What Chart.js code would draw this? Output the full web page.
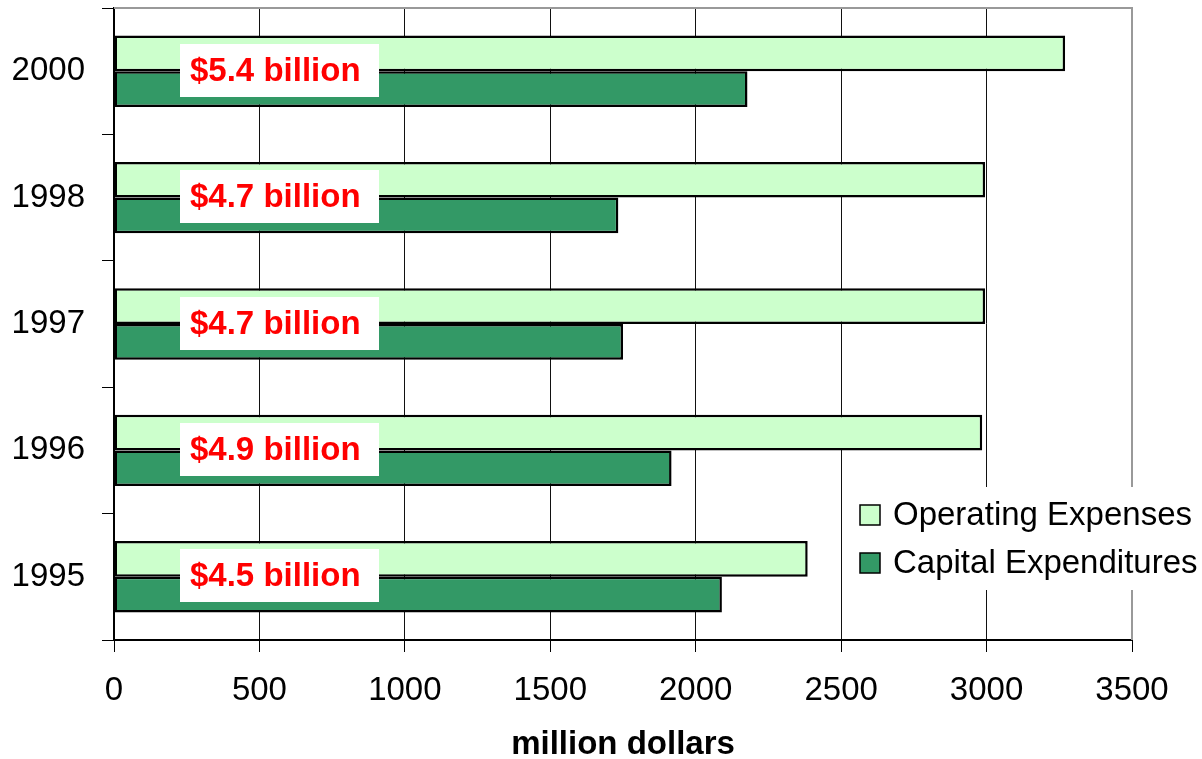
<!DOCTYPE html>
<html>
<head>
<meta charset="utf-8">
<script src="https://cdn.jsdelivr.net/npm/chart.js@4/dist/chart.umd.min.js"></script>
<style>
  html, body { margin: 0; padding: 0; background: #fff; }
  canvas { display: block; }
</style>
</head>
<body>
<canvas id="c" width="1202" height="759"></canvas>
<script>
const years = ['2000', '1998', '1997', '1996', '1995'];
const operatingExpenses = [3270, 2995, 2995, 2985, 2385];
const capitalExpenditures = [2178, 1734, 1750, 1917, 2090];
const totalLabels = ['$5.4 billion', '$4.7 billion', '$4.7 billion', '$4.9 billion', '$4.5 billion'];
const xTicks = [0, 500, 1000, 1500, 2000, 2500, 3000, 3500];
const seriesNames = ['Operating Expenses', 'Capital Expenditures'];

const FONT = '"Liberation Sans", Arial, sans-serif';

const overlayPlugin = {
  id: 'overlay',
  afterDatasetsDraw(chart) {
    const ctx = chart.ctx;
    const xs = chart.scales.x, ys = chart.scales.y;
    const area = chart.chartArea;
    ctx.save();
    // top & right frame
    ctx.strokeStyle = '#999';
    ctx.lineWidth = 2;
    ctx.beginPath();
    ctx.moveTo(area.left, area.top);
    ctx.lineTo(area.right, area.top);
    ctx.lineTo(area.right, area.bottom);
    ctx.stroke();
    // total labels
    ctx.font = 'bold 33px ' + FONT;
    ctx.textBaseline = 'middle';
    ctx.textAlign = 'left';
    const cx = xs.getPixelForValue(570);
    totalLabels.forEach((t, i) => {
      const cy = ys.getPixelForValue(i);
      const bw = 199, bh = 53;
      const bx = Math.round(cx - bw / 2), by = Math.round(cy - bh / 2 - 1);
      ctx.fillStyle = '#fff';
      ctx.fillRect(bx, by, bw, bh);
      ctx.fillStyle = '#ff0000';
      ctx.fillText(t, bx + 10, by + bh / 2 + 1);
    });
    // legend
    const lx = 848, ly = 487;
    ctx.fillStyle = '#fff';
    ctx.fillRect(lx, ly, 1202 - lx, 103);
    ctx.font = '33px ' + FONT;
    chart.data.datasets.forEach((ds, i) => {
      const rowY = 515 + i * 48;
      ctx.fillStyle = ds.backgroundColor;
      ctx.fillRect(860, rowY - 10, 20, 20);
      ctx.strokeStyle = '#000';
      ctx.lineWidth = 1.5;
      ctx.strokeRect(860, rowY - 10, 20, 20);
      ctx.fillStyle = '#000';
      ctx.fillText(ds.label, 893, rowY + 1);
    });
    ctx.restore();
  }
};

new Chart(document.getElementById('c'), {
  type: 'bar',
  data: {
    labels: years,
    datasets: [
      { label: seriesNames[0], data: operatingExpenses, backgroundColor: '#CCFFCC', borderColor: '#000', borderWidth: 2.5, borderSkipped: false, categoryPercentage: 0.565, barPercentage: 1 },
      { label: seriesNames[1], data: capitalExpenditures, backgroundColor: '#339966', borderColor: '#000', borderWidth: 2.5, borderSkipped: false, categoryPercentage: 0.565, barPercentage: 1 }
    ]
  },
  options: {
    indexAxis: 'y',
    responsive: false,
    animation: false,
    layout: { padding: { top: 8, right: 70, left: 0, bottom: 0 } },
    plugins: { legend: { display: false }, tooltip: { enabled: false } },
    scales: {
      x: {
        min: 0, max: 3500,
        afterBuildTicks(scale) { scale.ticks = xTicks.map(v => ({ value: v })); },
        afterFit(scale) { scale.height = 119; scale.paddingLeft = 0; scale.paddingRight = 0; },
        ticks: { font: { family: FONT, size: 33 }, color: '#000', padding: 19, maxRotation: 0, callback: v => String(v) },
        grid: {
          color: c => (c.tick && c.tick.value === 3500) ? 'rgba(0,0,0,0)' : '#111',
          tickColor: '#000',
          lineWidth: 1,
          tickLength: 12
        },
        border: { color: '#000', width: 2 },
        title: { display: true, text: 'million dollars', color: '#000', font: { family: FONT, size: 33, weight: 'bold', lineHeight: 0.85 }, padding: { top: 0, bottom: 0 } }
      },
      y: {
        afterFit(scale) { scale.width = 114; scale.paddingTop = 0; scale.paddingBottom = 0; },
        ticks: { font: { family: FONT, size: 33 }, color: '#000', padding: 17 },
        grid: { offset: true, drawOnChartArea: false, color: '#000', tickLength: 12 },
        border: { color: '#000', width: 2 }
      }
    }
  },
  plugins: [overlayPlugin]
});
</script>
</body>
</html>
